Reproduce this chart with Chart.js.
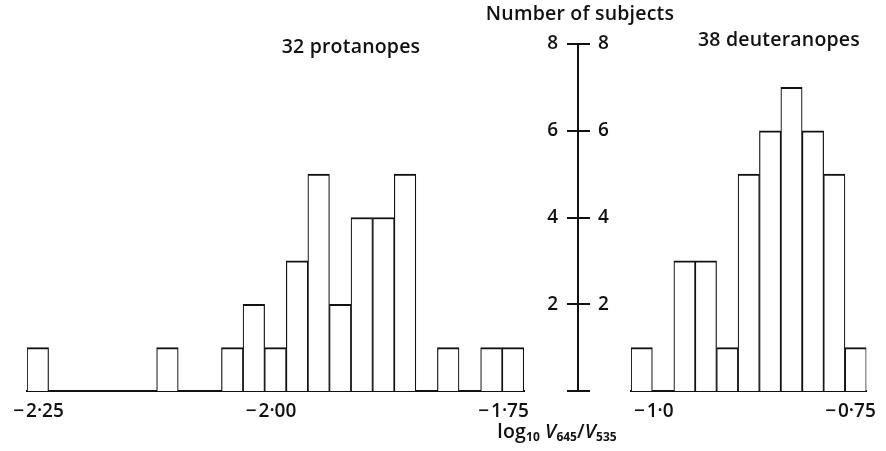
<!DOCTYPE html>
<html>
<head>
<meta charset="utf-8">
<script src="https://cdn.jsdelivr.net/npm/chart.js@4.4.1/dist/chart.umd.min.js"></script>
<style>
  html, body { margin: 0; padding: 0; background: #fff; }
  #wrap { position: relative; width: 886px; height: 451px; overflow: hidden; font-family: "Open Sans", Lato, sans-serif; color: #111; }
  canvas { position: absolute; top: 0; }
  .lbl { position: absolute; font-size: 19.5px; line-height: 20px; font-weight: 600; letter-spacing: 0.2px; white-space: nowrap; transform: translateX(-50%); }
  .lbl sub { font-size: 12px; vertical-align: -3px; font-weight: 700; letter-spacing: 0; }
</style>
</head>
<body>
<div id="wrap">
  <canvas id="cL" width="560" height="451" style="left:0px"></canvas>
  <canvas id="cR" width="296" height="451" style="left:590px"></canvas>
  <canvas id="cC" width="81" height="451" style="left:538px"></canvas>
  <div class="lbl" style="left:580px; top:3px;">Number of subjects</div>
  <div class="lbl" style="left:351px; top:36px;">32 protanopes</div>
  <div class="lbl" style="left:779px; top:29px;">38 deuteranopes</div>
  <div class="lbl" style="left:557px; top:421px;">log<sub>10</sub> <i>V</i><sub>645</sub>/<i>V</i><sub>535</sub></div>
</div>
<script>
// ---- data ----
const protanBins   = [-2.2508, -2.1114, -2.0417, -2.0185, -1.9953, -1.9720, -1.9488, -1.9256, -1.9024, -1.8791, -1.8559, -1.8095, -1.7630, -1.7398];
const protanCounts = [1, 1, 1, 2, 1, 3, 5, 2, 4, 4, 5, 1, 1, 1];
const deuterBins   = [-1.0154, -0.9610, -0.9338, -0.9066, -0.8794, -0.8522, -0.8250, -0.7977, -0.7706, -0.7433];
const deuterCounts = [1, 3, 3, 1, 5, 6, 7, 6, 5, 1];
const protanTicks  = [-2.25, -2.00, -1.75];
const protanTickLabels = ['\u2212\u200a2\u00b725', '\u2212\u200a2\u00b700', '\u2212\u200a1\u00b775'];
const deuterTicks  = [-1.0, -0.75];
const deuterTickLabels = ['\u2212\u200a1\u00b70', '\u2212\u200a0\u00b775'];
const countTicks   = [0, 2, 4, 6, 8];
const countTickLabels = ['', '2', '4', '6', '8'];

const INK = '#111';
const FONT = { family: '"Open Sans", Lato, sans-serif', size: 19, weight: 600 };

function histChart(id, bins, counts, ticks, tickLabels, xmin, xmax, pad) {
  return new Chart(document.getElementById(id), {
    type: 'bar',
    data: {
      datasets: [{
        data: bins.map((x, i) => ({ x: x, y: counts[i] })),
        backgroundColor: '#fff',
        borderColor: INK,
        borderWidth: { top: 2, left: 1.2, right: 1.2, bottom: 0 },
        borderSkipped: 'bottom',
        barPercentage: 1,
        categoryPercentage: 1
      }]
    },
    options: {
      responsive: false,
      animation: false,
      layout: { padding: pad },
      plugins: { legend: { display: false }, tooltip: { enabled: false } },
      scales: {
        x: {
          type: 'linear',
          offset: false,
          min: xmin, max: xmax,
          afterBuildTicks: s => { s.ticks = ticks.map(v => ({ value: v })); },
          afterFit: s => { s.height = 40; },
          grid: { display: false, drawTicks: false },
          border: { display: true, color: INK, width: 2 },
          ticks: {
            autoSkip: false, maxRotation: 0, color: INK, font: FONT, padding: 9,
            callback: (v, i) => tickLabels[i]
          }
        },
        y: { display: false, min: 0, max: 8 }
      }
    }
  });
}

histChart('cL', protanBins, protanCounts, protanTicks, protanTickLabels,
  -2.2624, -1.7280, { left: 27, right: 36, top: 44, bottom: 20 });
histChart('cR', deuterBins, deuterCounts, deuterTicks, deuterTickLabels,
  -1.0290, -0.7298, { left: 41, right: 18, top: 44, bottom: 20 });

function countAxis(position, showBorder, pad) {
  return {
    position: position,
    min: 0, max: 8,
    afterBuildTicks: s => { s.ticks = countTicks.map(v => ({ value: v })); },
    afterFit: s => { s.width = 40; },
    grid: { display: true, drawOnChartArea: false, drawTicks: true, tickLength: 11, color: INK, lineWidth: 2 },
    border: { display: showBorder, color: INK, width: 2 },
    ticks: { color: INK, font: FONT, padding: pad, callback: (v, i) => countTickLabels[i] }
  };
}

new Chart(document.getElementById('cC'), {
  type: 'bar',
  data: { labels: [], datasets: [] },
  options: {
    responsive: false,
    animation: false,
    layout: { padding: { left: 0, right: 0, top: 44, bottom: 60 } },
    plugins: { legend: { display: false }, tooltip: { enabled: false } },
    scales: {
      x: { display: false },
      yL: countAxis('left', true, 9),
      yR: countAxis('right', false, 8)
    }
  }
});
</script>
</body>
</html>
